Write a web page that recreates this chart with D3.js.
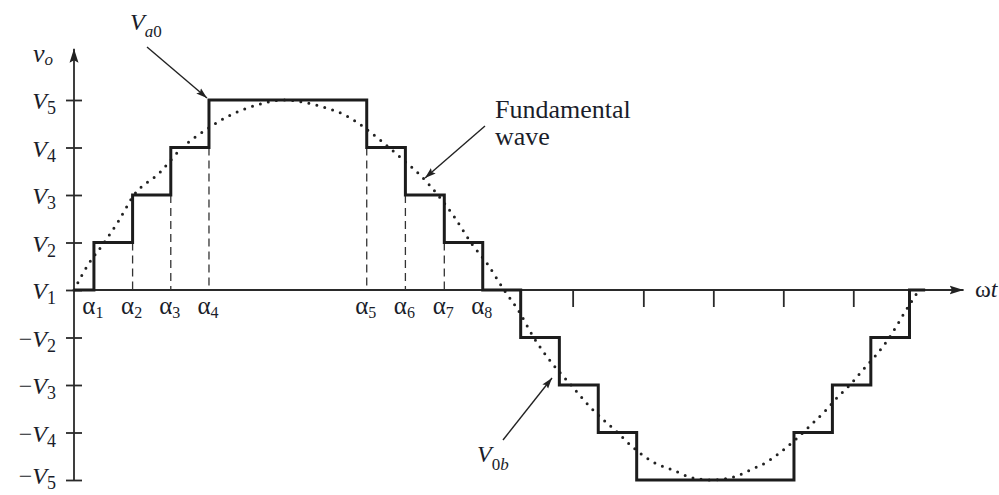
<!DOCTYPE html>
<html>
<head>
<meta charset="utf-8">
<title>Staircase output voltage</title>
<script src="https://cdn.jsdelivr.net/npm/d3@7"></script>
<style>
  html, body { margin: 0; padding: 0; background: #fff; }
  svg { display: block; }
  text { font-family: "Liberation Serif", "Times New Roman", serif; fill: #1a1d2a; }
</style>
</head>
<body>
<div id="plot"></div>
<script>
// switching angles (deg of wt)
var alphaAngles = [8.4, 24.7, 40.8, 56.9, 123.4, 139.7, 156.1, 172.3];
var alphaNames = ["1", "2", "3", "4", "5", "6", "7", "8"];
var posLevels = [1, 2, 3, 4, 3, 2, 1, 0];
var negAngles = [188.3, 204.6, 221.0, 237.2, 303.5, 319.7, 335.9, 352.2];
var negLevels = [-1, -2, -3, -4, -3, -2, -1, 0];
var stairEnd = 358.8;

// voltage levels on the vertical axis (V1 is the zero line)
var levelTicks = [4, 3, 2, 1, 0, -1, -2, -3, -4];
var levelNames = ["V5", "V4", "V3", "V2", "V1", "-V2", "-V3", "-V4", "-V5"];

// fundamental wave, points
var fundAngle = [0, 5.9, 12.6, 18.5, 25.3, 36.3, 44.7, 58.6, 67.0, 75.5, 88.1,
  102.4, 115.1, 129.0, 137.4, 145.9, 153.4, 160.6, 167.4, 174.5, 181.3,
  187.2, 193.9, 201.5, 209.5, 217.5, 228.9, 235.6, 244.1, 252.5, 259.7, 268.6,
  277.8, 285.0, 292.1, 298.9, 304.8, 311.1, 316.6, 321.6, 327.1, 332.6, 338.1,
  343.6, 350.3, 356.2];
var fundLevel = [0, 0.53, 0.99, 1.43, 2.00, 2.48, 2.95, 3.47, 3.71, 3.87, 4.00,
  3.89, 3.66, 3.16, 2.80, 2.42, 2.00, 1.52, 0.99, 0.53, 0,
  -0.42, -1.01, -1.54, -2.00, -2.46, -2.99, -3.31, -3.62, -3.79, -3.94, -4.00,
  -3.94, -3.79, -3.62, -3.37, -3.12, -2.82, -2.55, -2.27, -2.00, -1.68, -1.37,
  -1.01, -0.46, 0];

// plain ticks on the wt axis (second half only)
var wtTicks = [210.2, 240.0, 269.5, 299.0, 328.5];

var width = 999, height = 495;

var x = d3.scaleLinear().domain([0, 360]).range([74, 928]);
var y = d3.scaleLinear().domain([-4, 4]).range([480, 100]);

var svg = d3.select("#plot").append("svg")
  .attr("width", width)
  .attr("height", height);

var defs = svg.append("defs");
defs.append("marker")
  .attr("id", "axisHead")
  .attr("markerUnits", "userSpaceOnUse")
  .attr("viewBox", "0 -5 14 10")
  .attr("refX", 14).attr("refY", 0)
  .attr("markerWidth", 14).attr("markerHeight", 10)
  .attr("orient", "auto")
  .append("path")
  .attr("d", "M0,-4.5L14,0L0,4.5L2.5,0Z")
  .attr("fill", "#222");
defs.append("marker")
  .attr("id", "noteHead")
  .attr("markerUnits", "userSpaceOnUse")
  .attr("viewBox", "0 -4 11 8")
  .attr("refX", 11).attr("refY", 0)
  .attr("markerWidth", 11).attr("markerHeight", 8)
  .attr("orient", "auto")
  .append("path")
  .attr("d", "M0,-3.6L11,0L0,3.6L2,0Z")
  .attr("fill", "#222");

/* axes */

svg.append("line")
  .attr("x1", x(0)).attr("y1", y(-4))
  .attr("x2", x(0)).attr("y2", y(5.08))
  .attr("stroke", "#2a2a2a").attr("stroke-width", 1.8)
  .attr("marker-end", "url(#axisHead)");
svg.append("line")
  .attr("x1", x(0)).attr("y1", y(0))
  .attr("x2", x(375)).attr("y2", y(0))
  .attr("stroke", "#2a2a2a").attr("stroke-width", 1.8)
  .attr("marker-end", "url(#axisHead)");

var yLeft = svg.append("g").attr("transform", "translate(" + x(0) + ",0)")
  .call(d3.axisLeft(y).tickValues(levelTicks).tickSize(8).tickFormat(""));
var yRight = svg.append("g").attr("transform", "translate(" + x(0) + ",0)")
  .call(d3.axisRight(y).tickValues(levelTicks).tickSize(8).tickFormat(""));
var xTicks = svg.append("g").attr("transform", "translate(0," + y(0) + ")")
  .call(d3.axisBottom(x).tickValues(wtTicks).tickSize(17).tickFormat(""));

[yLeft, yRight, xTicks].forEach(function(g){
  g.select(".domain").remove();
  g.selectAll(".tick line").attr("stroke", "#2a2a2a").attr("stroke-width", 1.8);
});

// level labels, e.g. -V3 (bottom one nudged up to stay inside)
levelTicks.forEach(function(v, i){
  var name = levelNames[i];
  var neg = name.charAt(0) == "-";
  var t = svg.append("text")
    .attr("x", 56).attr("y", Math.min(y(v) + 9, height - 11))
    .attr("text-anchor", "end")
    .attr("font-size", 24);
  if(neg){ t.append("tspan").text("\u2212"); }
  t.append("tspan").attr("font-style", "italic").text("V");
  t.append("tspan").attr("font-size", 18).attr("dy", 5).text(name.slice(-1));
});

/* dashed guides under the steps */

var guides = [];
for(var i = 1; i < alphaAngles.length - 1; i++){
  guides.push({a: alphaAngles[i], top: Math.min(posLevels[i-1], posLevels[i])});
}
svg.selectAll(".guide").data(guides).enter().append("line")
  .attr("class", "guide")
  .attr("x1", d => x(d.a)).attr("x2", d => x(d.a))
  .attr("y1", d => y(d.top)).attr("y2", y(0))
  .attr("stroke", "#333").attr("stroke-width", 1.3)
  .attr("stroke-dasharray", "8,5");

/* fundamental (dotted) */

var fundPts = fundAngle.map(function(a, i){ return [a, fundLevel[i]]; });
svg.append("path")
  .attr("d", d3.line().x(d => x(d[0])).y(d => y(d[1])).curve(d3.curveMonotoneX)(fundPts))
  .attr("fill", "none")
  .attr("stroke", "#222")
  .attr("stroke-width", 3)
  .attr("stroke-linecap", "round")
  .attr("stroke-dasharray", "0 8.2");

/* staircase */

var stairPts = [[0, 0]];
alphaAngles.forEach(function(a, i){ stairPts.push([a, posLevels[i]]); });
negAngles.forEach(function(a, i){ stairPts.push([a, negLevels[i]]); });
stairPts.push([stairEnd, 0]);

svg.append("path")
  .attr("d", d3.line().x(d => x(d[0])).y(d => y(d[1])).curve(d3.curveStepAfter)(stairPts))
  .attr("fill", "none")
  .attr("stroke", "#1c1c1c")
  .attr("stroke-width", 3)
  .attr("stroke-linejoin", "miter");

/* alpha labels */

alphaAngles.forEach(function(a, i){
  var t = svg.append("text")
    .attr("x", x(a) - 1).attr("y", 314)
    .attr("text-anchor", "middle")
    .attr("font-size", 25);
  t.append("tspan").text("\u03b1");
  t.append("tspan").attr("font-size", 16).attr("dy", 4).text(alphaNames[i]);
});

/* axis names */

var vo = svg.append("text").attr("x", 33).attr("y", 62).attr("font-size", 26);
vo.append("tspan").attr("font-style", "italic").text("v");
vo.append("tspan").attr("font-style", "italic").attr("font-size", 17).attr("dy", 3).text("o");

var wt = svg.append("text").attr("x", 975).attr("y", 297).attr("font-size", 24);
wt.append("tspan").text("\u03c9");
wt.append("tspan").attr("font-style", "italic").text("t");

/* annotations */

var va0 = svg.append("text").attr("x", 130).attr("y", 30).attr("font-size", 24);
va0.append("tspan").attr("font-style", "italic").text("V");
va0.append("tspan").attr("font-style", "italic").attr("font-size", 17).attr("dy", 7).text("a");
va0.append("tspan").attr("font-size", 17).text("0");
svg.append("line")
  .attr("x1", 147).attr("y1", 47).attr("x2", x(alphaAngles[3]) - 2).attr("y2", y(4) - 2)
  .attr("stroke", "#222").attr("stroke-width", 1.4)
  .attr("marker-end", "url(#noteHead)");

var fw = svg.append("text").attr("font-size", 26);
fw.append("tspan").attr("x", 495).attr("y", 118).text("Fundamental");
fw.append("tspan").attr("x", 495).attr("y", 145).text("wave");
svg.append("line")
  .attr("x1", 485).attr("y1", 126).attr("x2", 425).attr("y2", 178)
  .attr("stroke", "#222").attr("stroke-width", 1.4)
  .attr("marker-end", "url(#noteHead)");

var v0b = svg.append("text").attr("x", 477).attr("y", 462).attr("font-size", 24);
v0b.append("tspan").attr("font-style", "italic").text("V");
v0b.append("tspan").attr("font-size", 17).attr("dy", 8).text("0");
v0b.append("tspan").attr("font-style", "italic").attr("font-size", 17).text("b");
svg.append("line")
  .attr("x1", 503).attr("y1", 440).attr("x2", 552).attr("y2", 378)
  .attr("stroke", "#222").attr("stroke-width", 1.4)
  .attr("marker-end", "url(#noteHead)");
</script>
</body>
</html>
